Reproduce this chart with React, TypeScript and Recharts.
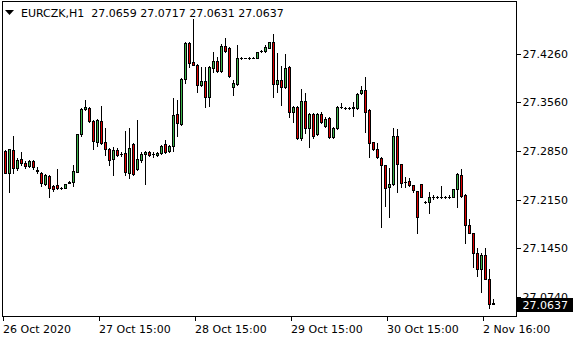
import { ComposedChart, Bar, XAxis, YAxis, ReferenceLine } from 'recharts';

// EURCZK H1 candles (oldest first)
const symbol = 'EURCZK,H1';

const opens = [
  27.2854, 27.2536, 27.2869, 27.2608, 27.2739, 27.2681, 27.2637, 27.2710, 27.2579, 27.2536,
  27.2376, 27.2492, 27.2347, 27.2362, 27.2318, 27.2318, 27.2391, 27.2405, 27.2550, 27.3101,
  27.3463, 27.3477, 27.3289, 27.2985, 27.3289, 27.2985, 27.2883, 27.2739, 27.2869, 27.2811,
  27.2825, 27.2536, 27.2956, 27.2594, 27.2724, 27.2811, 27.2840, 27.2811, 27.2797, 27.2825,
  27.2956, 27.2854, 27.2927, 27.3390, 27.3246, 27.3898, 27.4419, 27.4144, 27.4100, 27.3811,
  27.3869, 27.3637, 27.4057, 27.4158, 27.4013, 27.4376, 27.4347, 27.3782, 27.3825, 27.4202,
  27.4202, 27.4202, 27.4209, 27.4202, 27.4303, 27.4303, 27.4347, 27.4434, 27.3825, 27.3883,
  27.3782, 27.4071, 27.3419, 27.3492, 27.3043, 27.3579, 27.3188, 27.3390, 27.3101, 27.3390,
  27.3217, 27.3333, 27.3057, 27.3188, 27.3492, 27.3477, 27.3477, 27.3492, 27.3477, 27.3695,
  27.3738, 27.3448, 27.2985, 27.2883, 27.2753, 27.2652, 27.2333, 27.2376, 27.3072, 27.2666,
  27.2405, 27.2420, 27.2362, 27.2275, 27.2376, 27.2116, 27.2116, 27.2188, 27.2188, 27.2188,
  27.2188, 27.2188, 27.2188, 27.2304, 27.2507, 27.2217, 27.1782, 27.1667, 27.1377, 27.1145,
  27.1348, 27.1000, 27.0659,
];

const highs = [
  27.2869, 27.2883, 27.3072, 27.2753, 27.2840, 27.2710, 27.2724, 27.2724, 27.2623, 27.2550,
  27.2521, 27.2507, 27.2362, 27.2594, 27.2333, 27.2376, 27.2420, 27.2652, 27.3101, 27.3477,
  27.3593, 27.3492, 27.3304, 27.3318, 27.3506, 27.3188, 27.2898, 27.2912, 27.2898, 27.2840,
  27.3144, 27.3188, 27.2970, 27.3304, 27.2840, 27.2854, 27.2854, 27.2840, 27.2840, 27.2941,
  27.3014, 27.2941, 27.3622, 27.3593, 27.3912, 27.4434, 27.4434, 27.4767, 27.4114, 27.4071,
  27.4071, 27.4086, 27.4289, 27.4216, 27.4405, 27.4491, 27.4361, 27.3883, 27.4390, 27.4216,
  27.4209, 27.4216, 27.4216, 27.4289, 27.4318, 27.4390, 27.4434, 27.4549, 27.4274, 27.4086,
  27.4260, 27.4086, 27.3506, 27.3506, 27.3753, 27.3695, 27.3405, 27.3405, 27.3405, 27.3419,
  27.3347, 27.3347, 27.3203, 27.3506, 27.3550, 27.3492, 27.3492, 27.3564, 27.3695, 27.3796,
  27.3927, 27.3463, 27.2985, 27.2970, 27.2768, 27.2652, 27.2608, 27.3188, 27.3173, 27.2666,
  27.2478, 27.2463, 27.2362, 27.2275, 27.2376, 27.2130, 27.2260, 27.2217, 27.2203, 27.2347,
  27.2203, 27.2217, 27.2304, 27.2536, 27.2594, 27.2231, 27.1869, 27.1667, 27.1449, 27.1377,
  27.1449, 27.1145, 27.0717,
];

const lows = [
  27.2536, 27.2260, 27.2536, 27.2579, 27.2652, 27.2608, 27.2623, 27.2594, 27.2536, 27.2347,
  27.2362, 27.2188, 27.2275, 27.2304, 27.2304, 27.2318, 27.2391, 27.2347, 27.2550, 27.3072,
  27.3448, 27.3275, 27.2883, 27.2927, 27.2956, 27.2797, 27.2652, 27.2507, 27.2782, 27.2782,
  27.2507, 27.2463, 27.2507, 27.2579, 27.2695, 27.2376, 27.2782, 27.2768, 27.2782, 27.2811,
  27.2825, 27.2840, 27.2854, 27.3072, 27.3232, 27.3840, 27.4071, 27.4100, 27.3709, 27.3796,
  27.3492, 27.3506, 27.3999, 27.3999, 27.3999, 27.4289, 27.3927, 27.3666, 27.3811, 27.4187,
  27.4195, 27.4187, 27.4195, 27.4202, 27.4289, 27.4289, 27.4347, 27.3637, 27.3709, 27.3521,
  27.3768, 27.3347, 27.3275, 27.3028, 27.3014, 27.3115, 27.2912, 27.3043, 27.3086, 27.3260,
  27.3203, 27.3043, 27.3043, 27.3173, 27.3477, 27.3463, 27.3463, 27.3362, 27.3463, 27.3680,
  27.3130, 27.2768, 27.2869, 27.2753, 27.1753, 27.2058, 27.1898, 27.2362, 27.2260, 27.2333,
  27.2333, 27.2347, 27.2260, 27.1667, 27.2188, 27.2102, 27.1956, 27.2159, 27.2174, 27.2174,
  27.2174, 27.2174, 27.2188, 27.2043, 27.2188, 27.1522, 27.1667, 27.1174, 27.1044, 27.0812,
  27.1000, 27.0580, 27.0631,
];

const closes = [
  27.2536, 27.2883, 27.2608, 27.2724, 27.2681, 27.2637, 27.2710, 27.2623, 27.2565, 27.2391,
  27.2507, 27.2318, 27.2304, 27.2318, 27.2318, 27.2376, 27.2405, 27.2565, 27.3101, 27.3463,
  27.3492, 27.3289, 27.2999, 27.3304, 27.2970, 27.2883, 27.2724, 27.2869, 27.2797, 27.2811,
  27.2550, 27.2898, 27.2521, 27.2739, 27.2811, 27.2840, 27.2797, 27.2811, 27.2825, 27.2927,
  27.2840, 27.2927, 27.3376, 27.3260, 27.3898, 27.4419, 27.4129, 27.4100, 27.3811, 27.3869,
  27.3637, 27.4071, 27.4158, 27.4013, 27.4376, 27.4303, 27.3941, 27.3840, 27.4202, 27.4202,
  27.4202, 27.4202, 27.4202, 27.4289, 27.4303, 27.4361, 27.4434, 27.3825, 27.3883, 27.3782,
  27.4057, 27.3419, 27.3492, 27.3043, 27.3579, 27.3188, 27.3390, 27.3072, 27.3390, 27.3275,
  27.3318, 27.3057, 27.3188, 27.3492, 27.3492, 27.3477, 27.3477, 27.3477, 27.3680, 27.3738,
  27.3419, 27.2970, 27.2883, 27.2768, 27.2652, 27.2318, 27.2376, 27.3072, 27.2666, 27.2391,
  27.2405, 27.2362, 27.2289, 27.1898, 27.2188, 27.2116, 27.2188, 27.2188, 27.2188, 27.2188,
  27.2188, 27.2188, 27.2304, 27.2521, 27.2202, 27.1782, 27.1667, 27.1377, 27.1145, 27.1348,
  27.1000, 27.0638, 27.0637,
];

const timeTickBars = [0, 24, 48, 72, 96, 120];
const timeTickLabels = ['26 Oct 2020', '27 Oct 15:00', '28 Oct 15:00', '29 Oct 15:00', '30 Oct 15:00', '2 Nov 16:00'];
const priceTicks = [27.074, 27.145, 27.215, 27.285, 27.356, 27.426];
const priceDomain = [27.0464, 27.5028];

const BULL = '#3cb44b';
const BEAR = '#e00000';
const FONT = '"DejaVu Sans", Tahoma, sans-serif';

const data = opens.map((o, i) => ({ i, o, h: highs[i], l: lows[i], c: closes[i] }));
const last = data[data.length - 1];

function Candle(props: any) {
  const { x, y, width, height, payload } = props;
  if (x == null || !payload) return null;
  const { o, h, l, c } = payload;
  const top = Math.min(y, y + height);
  const bot = Math.max(y, y + height);
  const k = h > l ? (bot - top) / (h - l) : 0;
  const py = (p: number) => top + (h - p) * k;
  const px = Math.round(x + width / 2);
  const yo = Math.round(py(o));
  const yc = Math.round(py(c));
  const bt = Math.min(yo, yc);
  const bb = Math.max(yo, yc);
  const fill = c > o ? BULL : BEAR;
  return (
    <g>
      <line x1={px + 0.5} x2={px + 0.5} y1={Math.round(top)} y2={Math.round(bot) + 1} stroke="#000" />
      {bb - bt < 1 ? (
        <line x1={px - 1} x2={px + 2} y1={bt + 0.5} y2={bt + 0.5} stroke="#000" />
      ) : (
        <rect x={px - 0.5} y={bt + 0.5} width={2} height={bb - bt} fill={fill} stroke="#000" />
      )}
    </g>
  );
}

function TimeTick({ x, y, payload }: any) {
  const px = Math.round(x) - 1;
  const label = timeTickLabels[timeTickBars.indexOf(payload.value)];
  return (
    <g>
      <line x1={px + 0.5} x2={px + 0.5} y1={y} y2={y + 5} stroke="#000" />
      <text x={px} y={y + 17} fontSize={11} fontFamily={FONT} fill="#000">{label}</text>
    </g>
  );
}

function PriceTick({ x, y, payload }: any) {
  const py = Math.round(y) + 0.5;
  return (
    <g>
      <line x1={x} x2={x + 5} y1={py} y2={py} stroke="#000" />
      <text x={x + 6.5} y={y + 4} fontSize={11} fontFamily={FONT} fill="#000">{payload.value.toFixed(4)}</text>
    </g>
  );
}

function PriceBox({ viewBox }: any) {
  if (!viewBox) return null;
  const right = viewBox.x + viewBox.width;
  const yy = Math.round(viewBox.y);
  return (
    <g>
      <rect x={right + 1} y={yy - 6} width={56} height={14} fill="#000" />
      <text x={right + 6.5} y={yy + 5} fontSize={11} fontFamily={FONT} fill="#fff">{last.c.toFixed(4)}</text>
    </g>
  );
}

export default function App() {
  const header = `${symbol}  ${last.o.toFixed(4)} ${last.h.toFixed(4)} ${last.l.toFixed(4)} ${last.c.toFixed(4)}`;
  return (
    <div style={{ position: 'absolute', left: 0, top: 0, width: 580, height: 340, background: '#fff' }}>
      <ComposedChart width={580} height={340} data={data} margin={{ top: 1, right: 0, bottom: 0, left: 2 }}>
        <XAxis
          dataKey="i"
          type="category"
          height={24}
          ticks={timeTickBars}
          interval={0}
          tick={<TimeTick />}
          tickLine={false}
          axisLine={false}
          tickSize={0}
          tickMargin={0}
          padding={{ left: 0, right: 22 }}
        />
        <YAxis
          orientation="right"
          width={64}
          domain={priceDomain}
          allowDataOverflow
          ticks={priceTicks}
          interval={0}
          tick={<PriceTick />}
          tickLine={false}
          axisLine={false}
          tickSize={0}
          tickMargin={0}
        />
        <Bar dataKey={(d: any) => [d.l, d.h]} barSize={3} shape={(p: any) => <Candle {...p} />} isAnimationActive={false} />
        <ReferenceLine y={last.c} stroke="none" ifOverflow="visible" label={(p: any) => <PriceBox {...p} />} />
      </ComposedChart>
      <svg width={580} height={340} style={{ position: 'absolute', left: 0, top: 0, pointerEvents: 'none' }}>
        <rect x={2.5} y={1.5} width={514} height={315} fill="none" stroke="#000" />
        <path d="M5 10 L14 10 L9.5 15 Z" fill="#000" />
        <text x={21} y={16.5} fontSize={11} fontFamily={FONT} fill="#000" style={{ whiteSpace: 'pre' }}>{header}</text>
      </svg>
    </div>
  );
}
